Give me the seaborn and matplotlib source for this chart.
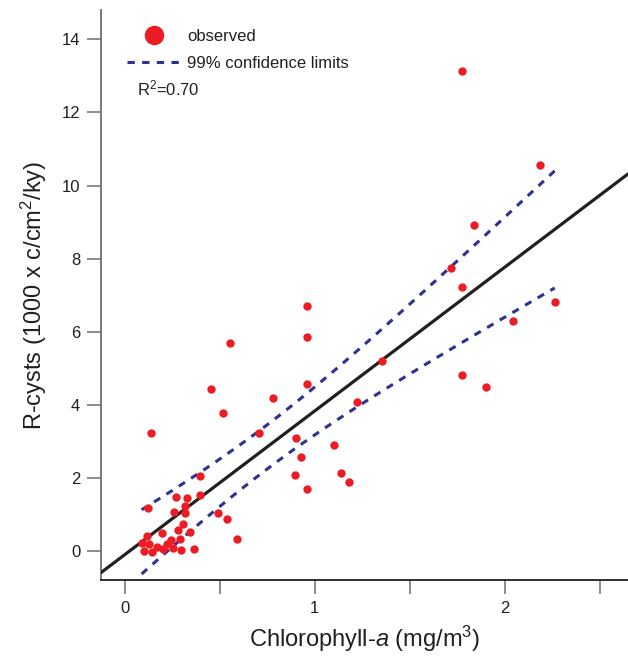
import numpy as np
import pandas as pd
import matplotlib
matplotlib.use("Agg")
import matplotlib.pyplot as plt
import seaborn as sns
from matplotlib.lines import Line2D

# observed points (chlorophyll-a in mg/m3, R-cysts in 1000 c/cm2/ky)
chl = [1.778, 2.187, 1.841, 1.718, 1.778, 2.264, 2.045, 1.778, 1.901,
       0.960, 0.960, 1.353, 0.960, 0.781, 1.220, 0.706, 0.899, 1.101,
       0.930, 0.897, 1.139, 1.180, 0.960,
       0.139, 0.397, 0.123, 0.269, 0.326, 0.395, 0.316, 0.260, 0.318,
       0.490, 0.539, 0.307, 0.277, 0.195, 0.344, 0.117, 0.593, 0.244,
       0.288, 0.088, 0.128, 0.223, 0.169, 0.200, 0.254, 0.100, 0.141,
       0.296, 0.363, 0.518, 0.553, 0.453]
cysts = [13.13, 10.56, 8.92, 7.75, 7.24, 6.81, 6.30, 4.82, 4.49,
         6.71, 5.87, 5.20, 4.57, 4.19, 4.09, 3.25, 3.09, 2.92,
         2.59, 2.08, 2.15, 1.90, 1.71,
         3.24, 2.07, 1.19, 1.48, 1.47, 1.54, 1.24, 1.08, 1.05,
         1.05, 0.89, 0.76, 0.58, 0.51, 0.52, 0.43, 0.35, 0.31,
         0.35, 0.22, 0.20, 0.20, 0.11, 0.08, 0.09, 0.01, -0.01,
         0.05, 0.08, 3.78, 5.70, 4.44]

x_ticks = [0, 0.5, 1, 1.5, 2, 2.5]
x_ticklabels = ["0", "", "1", "", "2", ""]
y_ticks = [0, 2, 4, 6, 8, 10, 12, 14]
t99 = 2.672  # two-sided 99% t value, n-2 = 53 dof

red = "#ed1c24"
navy = "#2e3192"
dark = "#231f20"
grey = "#6d6e71"

df = pd.DataFrame({"chl": chl, "cysts": cysts})

# least squares fit + 99% confidence band of the mean response
x = df["chl"].to_numpy()
y = df["cysts"].to_numpy()
n = len(x)
slope, icpt = np.polyfit(x, y, 1)
resid = y - (slope * x + icpt)
s = np.sqrt((resid ** 2).sum() / (n - 2))
sxx = ((x - x.mean()) ** 2).sum()
xb = np.linspace(x.min(), x.max(), 100)
half = t99 * s * np.sqrt(1 / n + (xb - x.mean()) ** 2 / sxx)
band = pd.DataFrame({"x": xb, "hi": slope * xb + icpt + half, "lo": slope * xb + icpt - half})

sns.set_style("ticks")
plt.rcParams["font.family"] = ["Liberation Sans", "DejaVu Sans"]
plt.rcParams["mathtext.fontset"] = "custom"
plt.rcParams["mathtext.rm"] = "Liberation Sans"
plt.rcParams["mathtext.it"] = "Liberation Sans:italic"

fig = plt.figure(figsize=(6.28, 6.58), dpi=100)
ax = fig.add_axes([101 / 628, 1 - 580 / 658, 527 / 628, 570 / 658])

xlim = (-0.126, 2.65)
ylim = (-0.78, 14.8)

fit = pd.DataFrame({"x": list(xlim), "y": [slope * v + icpt for v in xlim]})
sns.lineplot(data=fit, x="x", y="y", ax=ax, color=dark, lw=2.3, zorder=3)
for col in ["hi", "lo"]:
    sns.lineplot(data=band, x="x", y=col, ax=ax, color=navy, lw=2.2,
                 linestyle=(0, (2.4, 2.4)), dash_capstyle="butt", zorder=3)
sns.scatterplot(data=df, x="chl", y="cysts", ax=ax, color=red, s=36,
                linewidth=0, zorder=4)

ax.set_xlim(*xlim)
ax.set_ylim(*ylim)
ax.set_xticks(x_ticks)
ax.set_xticklabels(x_ticklabels)
ax.set_yticks(y_ticks)
ax.tick_params(axis="both", length=10, width=1.1, color=grey, labelsize=12,
               pad=5, labelcolor=dark)
for side in ["top", "right"]:
    ax.spines[side].set_visible(False)
ax.spines["left"].set_color(grey)
ax.spines["bottom"].set_color(dark)
ax.spines["left"].set_linewidth(1.3)
ax.spines["bottom"].set_linewidth(1.3)

ax.set_xlabel(r"Chlorophyll-$\mathit{a}$ (mg/m$^3$)", fontsize=17, color=dark, labelpad=6)
ax.set_ylabel(r"R-cysts (1000 x c/cm$^2$/ky)", fontsize=17, color=dark, labelpad=9)

handles = [Line2D([], [], ls="none", marker="o", color=red, markersize=13),
           Line2D([], [], color=navy, lw=2.2, ls=(0, (2.4, 2.4)), dash_capstyle="butt")]
ax.legend(handles, ["observed", "99% confidence limits"], loc="upper left",
          bbox_to_anchor=(127 / 628, 1 - 29 / 658), bbox_transform=fig.transFigure,
          frameon=False, borderpad=0, borderaxespad=0, handlelength=3.2,
          handletextpad=0.4, labelspacing=0.7, fontsize=12, labelcolor=dark)
fig.text(137 / 628, 1 - 88 / 658, r"R$^2$=0.70", fontsize=12, va="center", color=dark)

fig.savefig("out.png", dpi=100)
